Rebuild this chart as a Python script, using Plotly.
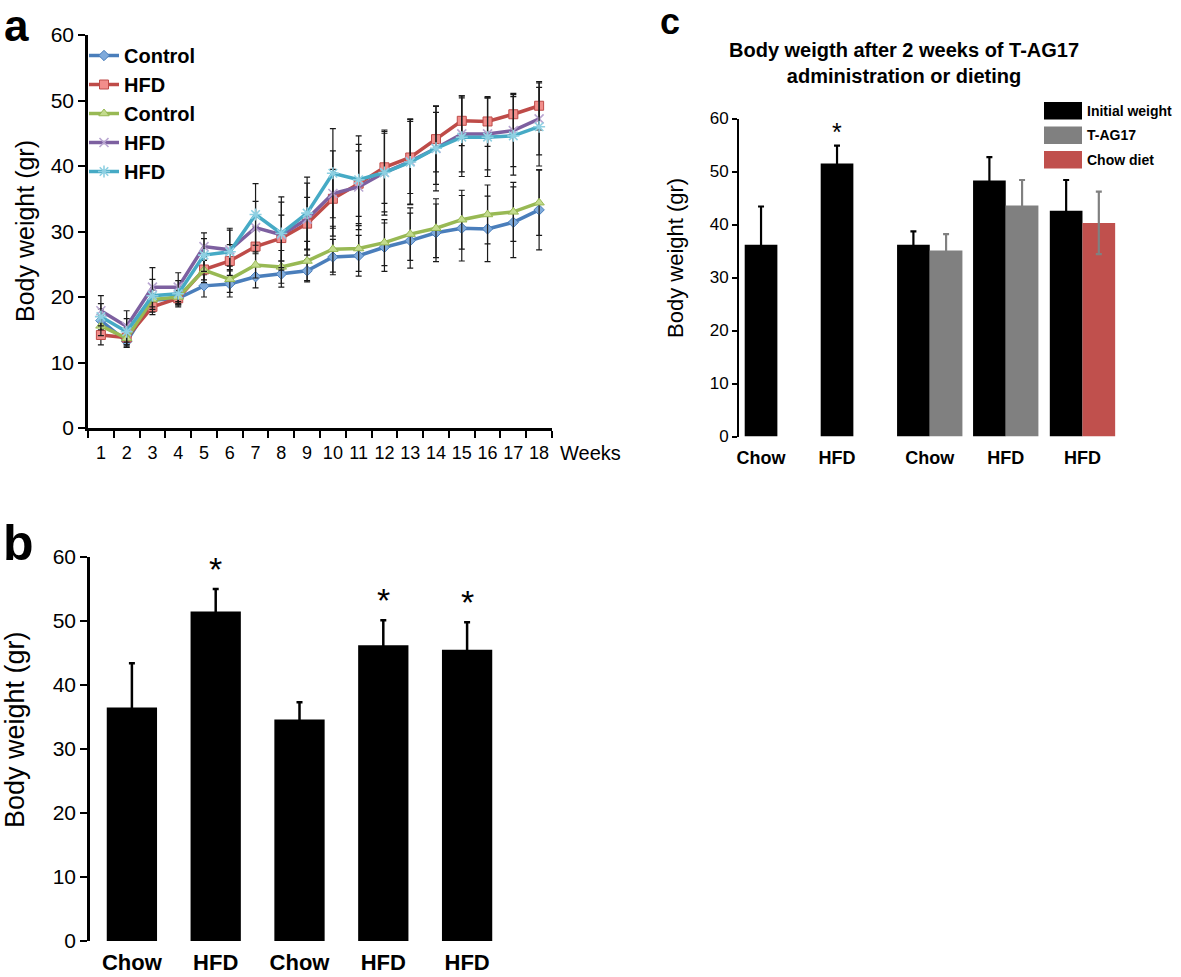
import plotly.graph_objects as go

# ---------------- data ----------------
weeks = [str(i) for i in range(1, 19)]
a_names = ["Control", "HFD", "Control", "HFD", "HFD"]

control_1 = [16.4, 13.2, 19.5, 19.8, 21.7, 22.0, 23.1, 23.5, 24.0, 26.1, 26.3, 27.6, 28.6, 29.8, 30.5, 30.4, 31.4, 33.3]
hfd_1 = [14.2, 13.8, 18.5, 19.8, 24.2, 25.5, 27.7, 29.0, 31.2, 35.0, 37.3, 39.8, 41.3, 44.1, 46.9, 46.8, 47.9, 49.2]
control_2 = [15.6, 13.7, 19.6, 20.0, 24.1, 22.7, 24.9, 24.6, 25.5, 27.3, 27.4, 28.3, 29.6, 30.5, 31.8, 32.6, 33.0, 34.4]
hfd_2 = [17.9, 15.5, 21.5, 21.5, 27.7, 27.2, 30.6, 29.5, 31.9, 35.8, 36.8, 39.0, 40.7, 42.7, 44.9, 44.9, 45.4, 47.2]
hfd_3 = [17.0, 14.7, 20.2, 20.5, 26.4, 26.9, 32.6, 29.7, 32.8, 38.9, 37.9, 39.0, 40.6, 42.7, 44.4, 44.4, 44.6, 46.0]

control_1_err = [1.8, 0.8, 1.0, 1.0, 1.7, 2.0, 1.7, 2.0, 1.7, 2.7, 3.1, 3.7, 4.2, 4.4, 5.0, 5.0, 5.4, 6.1]
hfd_1_err = [1.5, 1.5, 1.2, 1.0, 2.0, 2.5, 3.0, 3.5, 4.0, 4.5, 5.0, 5.5, 5.5, 5.0, 3.8, 3.8, 3.2, 3.7]
control_2_err = [1.5, 1.0, 1.5, 1.0, 1.5, 2.0, 2.0, 2.5, 3.0, 3.5, 3.5, 3.5, 4.0, 4.5, 4.5, 4.5, 4.5, 5.0]
hfd_2_err = [2.3, 2.4, 3.0, 2.2, 2.1, 3.0, 4.0, 5.0, 5.5, 6.5, 6.5, 6.0, 6.5, 5.5, 5.8, 5.5, 5.5, 5.5]
hfd_3_err = [2.0, 2.0, 2.5, 2.0, 2.5, 3.6, 4.7, 5.6, 5.5, 6.8, 6.7, 6.5, 6.5, 6.5, 6.0, 6.0, 6.0, 6.0]

b_labels = ["Chow", "HFD", "Chow", "HFD", "HFD"]
b_values = [36.5, 51.5, 34.6, 46.2, 45.5]
b_errors = [6.9, 3.5, 2.7, 3.9, 4.3]
b_sig = [False, True, False, True, True]

c_title = "Body weigth after 2 weeks of T-AG17<br>administration or dieting"
c_labels = ["Chow", "HFD", "Chow", "HFD", "HFD"]
c_names = ["Initial weight", "T-AG17", "Chow diet"]
c_initial = [36.2, 51.5, 36.2, 48.3, 42.6]
c_initial_err = [7.2, 3.4, 2.5, 4.4, 5.8]
c_tag17 = [35.1, 43.6]
c_tag17_err = [3.1, 4.8]
c_chowdiet = [40.3]
c_chowdiet_err = [5.9]
c_sig = [False, True, False, False, False]

# ---------------- style ----------------
FONT = "Liberation Sans, Arial, Helvetica, sans-serif"
line_colors = ["#4A7EBB", "#BE4B48", "#98B954", "#7D60A0", "#46AAC5"]
fill_colors = ["#7FAADB", "#F28E8B", "#C3DB8E", "#B9A6D1", "#8FD0E2"]
symbols = ["diamond", "square", "triangle-up", "x-thin-open", "asterisk-open"]
sizes = [8, 9, 9, 9, 10]
c_colors = ["#000000", "#808080", "#C0504D"]

fig = go.Figure()

series = [control_1, hfd_1, control_2, hfd_2, hfd_3]
errs = [control_1_err, hfd_1_err, control_2_err, hfd_2_err, hfd_3_err]
for i, (vals, er) in enumerate(zip(series, errs)):
    open_sym = symbols[i].endswith("open")
    fig.add_trace(go.Scatter(
        x=weeks, y=vals, name=a_names[i], mode="lines+markers",
        xaxis="x", yaxis="y",
        line=dict(color=line_colors[i], width=3.5),
        marker=dict(symbol=symbols[i], size=sizes[i], color=fill_colors[i],
                    line=dict(color=line_colors[i] if not open_sym else fill_colors[i],
                              width=1 if not open_sym else 1.6)),
        error_y=dict(type="data", array=er, visible=True, color="#1a1a1a",
                     thickness=1.2, width=3),
        legend="legend",
    ))

b_pos = list(range(len(b_labels)))
fig.add_trace(go.Bar(
    x=b_pos, y=b_values, xaxis="x2", yaxis="y2", width=0.6,
    marker=dict(color="#000000", line=dict(width=0)),
    error_y=dict(type="data", array=b_errors, visible=True, color="#000000",
                 thickness=2.5, width=3),
    showlegend=False, name="b",
))

c_pos = [0, 1, 2.22, 3.22, 4.23]
bw = 0.43
init_offsets = [-bw / 2, -bw / 2, -bw, -bw, -bw]
fig.add_trace(go.Bar(
    x=c_pos, y=c_initial, xaxis="x3", yaxis="y3", width=bw, offset=init_offsets,
    marker=dict(color=c_colors[0], line=dict(width=0)),
    error_y=dict(type="data", array=c_initial_err, visible=True, color="#000000",
                 thickness=2.2, width=3),
    name=c_names[0], showlegend=False,
))
fig.add_trace(go.Bar(
    x=c_pos[2:4], y=c_tag17, xaxis="x3", yaxis="y3", width=bw, offset=0,
    marker=dict(color=c_colors[1], line=dict(width=0)),
    error_y=dict(type="data", array=c_tag17_err, visible=True, color="#808080",
                 thickness=2.2, width=3),
    name=c_names[1], showlegend=False,
))
fig.add_trace(go.Bar(
    x=c_pos[4:5], y=c_chowdiet, xaxis="x3", yaxis="y3", width=bw, offset=0,
    marker=dict(color=c_colors[2], line=dict(width=0)),
    error_y=dict(type="data", array=c_chowdiet_err, visible=True, color="#808080",
                 thickness=2.2, width=3),
    name=c_names[2], showlegend=False,
))

W, H = 1181, 977
def px(x):
    return x / W
def py(y):
    return 1 - y / H

axis_common = dict(showgrid=False, zeroline=False, showline=True, linecolor="#000000",
                   mirror=False, automargin=False)

annotations = []
for p, v, e, s in zip(b_pos, b_values, b_errors, b_sig):
    if s:
        annotations.append(dict(x=p, y=v + e, xref="x2", yref="y2", text="*",
                                showarrow=False, yanchor="middle", yshift=20,
                                font=dict(family=FONT, size=34, color="#000000")))
for p, v, e, s in zip(c_pos, c_initial, c_initial_err, c_sig):
    if s:
        annotations.append(dict(x=p, y=v + e, xref="x3", yref="y3", text="*",
                                showarrow=False, yanchor="middle", yshift=14,
                                font=dict(family=FONT, size=25, color="#000000")))

annotations += [
    dict(x=px(16), y=1, xref="paper", yref="paper", text="<b>a</b>", showarrow=False,
         xanchor="center", yanchor="top", borderpad=0,
         font=dict(family=FONT, size=44, color="#000")),
    dict(x=px(18), y=py(543), xref="paper", yref="paper", text="<b>b</b>", showarrow=False,
         xanchor="center", yanchor="middle", font=dict(family=FONT, size=50, color="#000")),
    dict(x=px(670), y=1, xref="paper", yref="paper", text="<b>c</b>", showarrow=False,
         xanchor="center", yanchor="top", borderpad=0,
         font=dict(family=FONT, size=36, color="#000")),
    dict(x=px(25), y=py(231), xref="paper", yref="paper", text="Body weight (gr)",
         textangle=-90, showarrow=False, xanchor="center", yanchor="middle",
         font=dict(family=FONT, size=25, color="#000")),
    dict(x=px(15), y=py(730), xref="paper", yref="paper", text="Body weight (gr)",
         textangle=-90, showarrow=False, xanchor="center", yanchor="middle",
         font=dict(family=FONT, size=27, color="#000")),
    dict(x=px(675), y=py(258), xref="paper", yref="paper", text="Body weight (gr)",
         textangle=-90, showarrow=False, xanchor="center", yanchor="middle",
         font=dict(family=FONT, size=22, color="#000")),
    dict(x=px(904), y=py(63), xref="paper", yref="paper", text="<b>" + c_title + "</b>",
         showarrow=False, xanchor="center", yanchor="middle", align="center",
         font=dict(family=FONT, size=20, color="#000")),
    dict(x=px(558), y=py(453), xref="paper", yref="paper", text="Weeks",
         showarrow=False, xanchor="left", yanchor="middle",
         font=dict(family=FONT, size=20, color="#000")),
]

shapes = []
leg_top, row_h, sw_h = 102, 24.5, 17.5
for i, (nm, col) in enumerate(zip(c_names, c_colors)):
    y0 = leg_top + i * row_h
    shapes.append(dict(type="rect", xref="paper", yref="paper",
                       x0=px(1044), x1=px(1082), y0=py(y0 + sw_h), y1=py(y0),
                       fillcolor=col, line=dict(width=0)))
    annotations.append(dict(x=px(1085), y=py(y0 + sw_h / 2), xref="paper", yref="paper",
                            text="<b>" + nm + "</b>", showarrow=False,
                            xanchor="left", yanchor="middle",
                            font=dict(family=FONT, size=14, color="#000")))

fig.update_layout(
    width=W, height=H, margin=dict(l=0, r=0, t=0, b=0, autoexpand=False),
    paper_bgcolor="white", plot_bgcolor="white",
    barmode="overlay",
    font=dict(family=FONT, color="#000000"),
    xaxis=dict(axis_common, domain=[px(88), px(552)], type="category",
               range=[-0.5, 17.5], tickson="boundaries", ticks="outside",
               ticklen=7, tickwidth=2, tickcolor="#000", linewidth=2.5, tickangle=0,
               ticklabelstandoff=7,
               tickfont=dict(family=FONT, size=18, color="#000"), anchor="y"),
    yaxis=dict(axis_common, domain=[py(428), py(35)], range=[0, 60], dtick=10,
               ticks="outside", ticklen=7, tickwidth=2, tickcolor="#000", linewidth=2.5,
               tickfont=dict(family=FONT, size=21, color="#000"), anchor="x"),
    xaxis2=dict(showgrid=False, zeroline=False, showline=False, automargin=False,
                domain=[px(90), px(509)], range=[-0.5, 4.5],
                tickvals=b_pos, ticktext=b_labels, ticks="", tickangle=0,
                ticklabelstandoff=6,
                tickfont=dict(family=FONT, size=22, color="#000", weight="bold"),
                anchor="y2"),
    yaxis2=dict(axis_common, domain=[py(941), py(557)], range=[0, 60], dtick=10,
                ticks="outside", ticklen=7, tickwidth=2, tickcolor="#000", linewidth=2.5,
                tickfont=dict(family=FONT, size=21, color="#000"), anchor="x2"),
    xaxis3=dict(showgrid=False, zeroline=False, showline=False, automargin=False,
                domain=[px(739), px(1122)], range=[-0.29, 4.75],
                tickvals=c_pos, ticktext=c_labels, ticks="", tickangle=0,
                ticklabelstandoff=8,
                tickfont=dict(family=FONT, size=18, color="#000", weight="bold"),
                anchor="y3"),
    yaxis3=dict(axis_common, domain=[py(436.5), py(118.5)], range=[0, 60], dtick=10,
                ticks="outside", ticklen=5, tickwidth=2, tickcolor="#000", linewidth=2,
                tickfont=dict(family=FONT, size=17, color="#000"), anchor="x3"),
    legend=dict(x=px(84), y=py(36), xanchor="left", yanchor="top",
                bgcolor="rgba(0,0,0,0)", tracegroupgap=0, itemwidth=30,
                font=dict(family=FONT, size=20, color="#000", weight="bold")),
    annotations=annotations,
    shapes=shapes,
)

fig.write_html("out.html", post_script="document.body.style.margin='0';",
               config={"displayModeBar": False})
